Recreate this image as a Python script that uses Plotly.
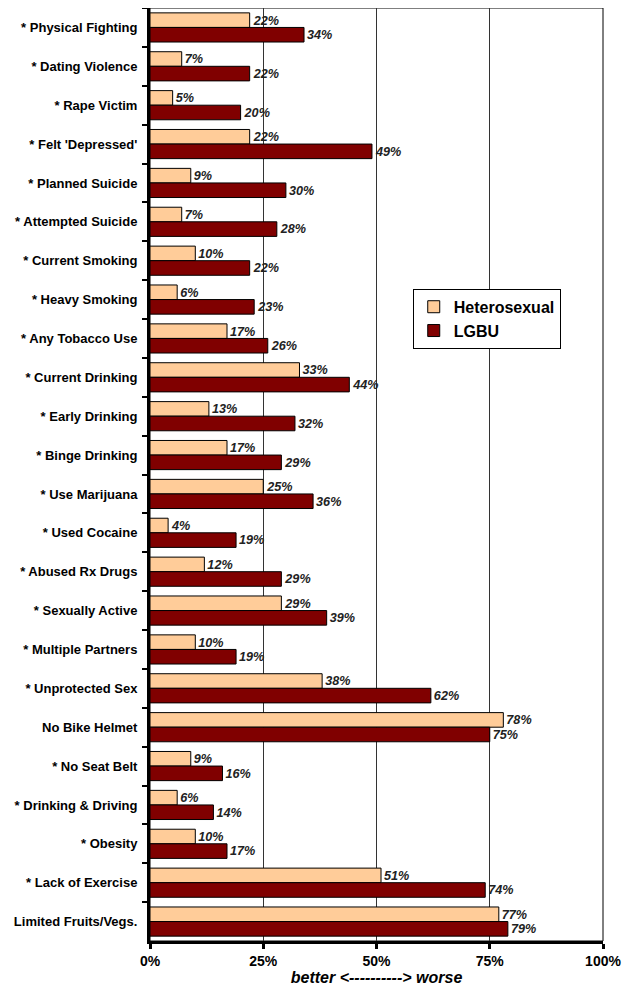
import plotly.graph_objects as go

categories = ["* Physical Fighting", "* Dating Violence", "* Rape Victim", "* Felt 'Depressed'",
              "* Planned Suicide", "* Attempted Suicide", "* Current Smoking", "* Heavy Smoking",
              "* Any Tobacco Use", "* Current Drinking", "* Early Drinking", "* Binge Drinking",
              "* Use Marijuana", "* Used Cocaine", "* Abused Rx Drugs", "* Sexually Active",
              "* Multiple Partners", "* Unprotected Sex", "No Bike Helmet", "* No Seat Belt",
              "* Drinking & Driving", "* Obesity", "* Lack of Exercise", "Limited Fruits/Vegs."]
hetero = [22, 7, 5, 22, 9, 7, 10, 6, 17, 33, 13, 17, 25, 4, 12, 29, 10, 38, 78, 9, 6, 10, 51, 77]
lgbu = [34, 22, 20, 49, 30, 28, 22, 23, 26, 44, 32, 29, 36, 19, 29, 39, 19, 62, 75, 16, 14, 17, 74, 79]
x_ticks = [0, 25, 50, 75, 100]
x_tick_labels = ["0%", "25%", "50%", "75%", "100%"]

FONT = "Arial, Liberation Sans, sans-serif"

fig = go.Figure()
for name, vals, color in [("Heterosexual", hetero, "#FFCC99"), ("LGBU", lgbu, "#800000")]:
    fig.add_trace(go.Bar(
        y=categories, x=vals, name=name, orientation="h",
        marker=dict(color=color, line=dict(color="black", width=1)),
        text=[f"{v}%" for v in vals], textposition="outside",
        textfont=dict(family=FONT, size=13, color="#222222", weight="bold", style="italic"),
        cliponaxis=False,
    ))

fig.update_layout(
    width=632, height=992,
    margin=dict(l=142, r=37, t=0, b=59),
    paper_bgcolor="white", plot_bgcolor="white",
    barmode="group", bargap=0.25, bargroupgap=0,
    font=dict(family=FONT, color="black"),
    showlegend=True,
    legend=dict(x=0.58, y=0.699, xanchor="left", yanchor="top",
                bgcolor="white", bordercolor="black", borderwidth=1,
                font=dict(family=FONT, size=16, color="black", weight="bold"),
                itemwidth=30, tracegroupgap=0),
    xaxis=dict(range=[0, 100], tickvals=x_ticks, ticktext=x_tick_labels,
               showgrid=True, gridcolor="#333333", gridwidth=1,
               showline=True, linecolor="black", linewidth=3,
               ticks="outside", ticklen=5, tickwidth=3, tickcolor="black",
               tickfont=dict(family=FONT, size=14, color="black", weight="bold"),
               zeroline=False,
               title=dict(text="better <----------> worse", standoff=4,
                          font=dict(family=FONT, size=16, color="black", weight="bold", style="italic"))),
    yaxis=dict(type="category", autorange="reversed", tickson="boundaries",
               showgrid=False, showline=True, linecolor="black", linewidth=3,
               ticks="outside", ticklen=5, tickwidth=2, tickcolor="black",
               tickfont=dict(family=FONT, size=13, color="black", weight="bold"),
               ticklabelstandoff=7),
)
fig.add_shape(type="rect", xref="x domain", yref="y domain", x0=0, x1=1, y0=0, y1=1,
              line=dict(color="black", width=1), layer="below")

fig.write_html("out.html")
